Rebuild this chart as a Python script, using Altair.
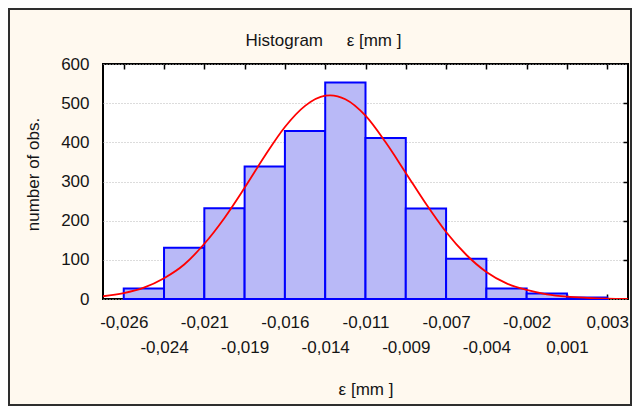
import json
import altair as alt
import pandas as pd

# ---- data ----
edges = [-0.02598, -0.02356, -0.02114, -0.01872, -0.0163, -0.01388, -0.01146,
         -0.00904, -0.00662, -0.0042, -0.00178, 0.00064, 0.00306]
edge_labels = ["-0,026", "-0,024", "-0,021", "-0,019", "-0,016", "-0,014", "-0,011",
               "-0,009", "-0,007", "-0,004", "-0,002", "0,001", "0,003"]
counts = [27, 131, 232, 338, 429, 553, 411, 231, 103, 27, 14, 4]

curve_x = [-0.02723, -0.02598, -0.02477, -0.02356, -0.02235, -0.02114, -0.01993,
           -0.01872, -0.01751, -0.0163, -0.01509, -0.01388, -0.01358, -0.01267,
           -0.01146, -0.01025, -0.00904, -0.00783, -0.00662, -0.00541, -0.0042,
           -0.00299, -0.00178, -0.00057, 0.00064, 0.00185, 0.00306, 0.0043]
curve_y = [7, 15, 29, 53, 88, 141, 207, 284, 365, 439, 493, 519, 520, 510,
           468, 400, 322, 243, 171, 113, 69, 40, 23, 12, 6, 3, 1, 0]

y_values = [0, 100, 200, 300, 400, 500, 600]
right_ticks = [100, 200, 300, 400, 500]

step = 0.00242
FONT = "Liberation Sans"
FS = 17
TXT = "#151515"

bars_df = pd.DataFrame({"start": edges[:-1], "end": edges[1:], "count": counts})
curve_df = pd.DataFrame({"cx": curve_x, "cy": curve_y})

xscale = alt.Scale(domain=[-0.027226, 0.004306], nice=False, zero=False)
yscale = alt.Scale(domain=[0, 600], nice=False, zero=True)

L = json.dumps(edge_labels)
idx = f"round((datum.value - ({edges[0]})) / {step})"
label_expr = f"({idx} % 2 == 0) ? {L}[{idx}] : ['', {L}[{idx}]]"

bottom_axis = alt.Axis(
    orient="bottom", values=edges, offset=-5, tickSize=5, tickColor="black",
    tickWidth=1.5, domain=False, grid=False, labelExpr=label_expr,
    labelPadding=15, labelBaseline="top", labelLineHeight=25, labelAlign="center",
    labelOverlap=False, labelFlush=False, labelFont=FONT, labelFontSize=FS,
    labelColor=TXT, title="ε [mm ]", titleFont=FONT, titleFontSize=FS,
    titleFontWeight="normal", titleColor=TXT, titleBaseline="alphabetic", titleY=100,
)
left_axis = alt.Axis(
    orient="left", values=y_values, ticks=False, domain=False, grid=True,
    gridColor="#b8b8b8", gridDash=[1, 2], gridWidth=1,
    labelPadding=14, labelFont=FONT, labelFontSize=FS, labelColor=TXT,
    title="number of obs.", titleFont=FONT, titleFontSize=FS,
    titleFontWeight="normal", titleColor=TXT, titleBaseline="middle",
    titleAlign="center", titleX=-70, titleY=110,
)
top_axis = alt.Axis(
    orient="top", values=edges, offset=-5, tickSize=5, tickColor="black",
    tickWidth=1.5, domain=False, grid=False, labels=False, title=None,
)
right_axis = alt.Axis(
    orient="right", values=right_ticks, offset=-5, tickSize=5, tickColor="black",
    tickWidth=1.5, domain=False, grid=False, labels=False, title=None,
)

bars = alt.Chart(bars_df).mark_rect(
    fill="#b9b9f7", stroke="#0000ff", strokeWidth=2
).encode(
    x=alt.X("start:Q", scale=xscale, axis=bottom_axis),
    x2="end:Q",
    y=alt.Y("count:Q", scale=yscale, axis=left_axis),
)

curve = alt.Chart(curve_df).mark_line(
    color="#ff0000", strokeWidth=1.8, interpolate="monotone", clip=True
).encode(
    x=alt.X("cx:Q", scale=xscale, axis=top_axis),
    y=alt.Y("cy:Q", scale=yscale, axis=right_axis),
)

frame = alt.Chart(pd.DataFrame({"a": [0]})).mark_rect(
    filled=False, stroke="#2e2e2e", strokeWidth=2
).encode(
    x=alt.value(-94), x2=alt.value(528), y=alt.value(-55), y2=alt.value(341)
)

chart = alt.layer(bars, curve, frame).resolve_axis(
    x="independent", y="independent"
).properties(
    width=525, height=235,
    padding={"left": 95, "top": 56, "right": 4, "bottom": 107},
    autosize=alt.AutoSizeParams(type="none"),
    background="#fff9ef",
    title=alt.TitleParams(
        "Histogram\u00a0\u00a0\u00a0\u00a0\u00a0ε [mm ]", font=FONT, fontSize=FS,
        fontWeight="normal", color=TXT, anchor="middle", dx=-42, offset=-55,
        baseline="alphabetic",
    ),
).configure_view(fill="white", stroke="black", strokeWidth=2)

chart.save("out.html", embed_options={"renderer": "svg", "actions": False})
